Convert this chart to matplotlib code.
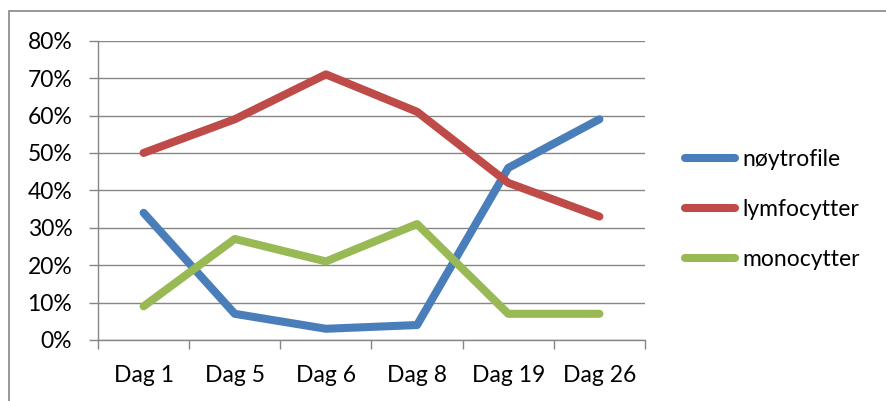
import matplotlib
matplotlib.use("Agg")
import matplotlib.pyplot as plt
from matplotlib.patches import Rectangle
from matplotlib.ticker import FuncFormatter, MultipleLocator

categories = ["Dag 1", "Dag 5", "Dag 6", "Dag 8", "Dag 19", "Dag 26"]
noytrofile = [34, 7, 3, 4, 46, 59]
lymfocytter = [50, 59, 71, 61, 42, 33]
monocytter = [9, 27, 21, 31, 7, 7]

series = [
    ("nøytrofile", noytrofile, "#4a7ebb"),
    ("lymfocytter", lymfocytter, "#be4b48"),
    ("monocytter", monocytter, "#98b954"),
]

W, H, DPI = 887, 401, 100
FS = 16.5
plt.rcParams["font.family"] = ["Lato", "DejaVu Sans"]

fig = plt.figure(figsize=(W / DPI, H / DPI), dpi=DPI)
fig.patch.set_facecolor("white")

# chart frame (extends past the right and bottom edges)
fig.patches.append(Rectangle((9 / W, -0.1), 1.2, 1 - 11 / H + 0.1,
                             transform=fig.transFigure, fill=False,
                             edgecolor="#868686", linewidth=1.2))

left, right, top, bottom = 98, 645, 40.7, 340
ax = fig.add_axes([left / W, 1 - bottom / H, (right - left) / W, (bottom - top) / H])

x = list(range(len(categories)))
for name, vals, col in series:
    ax.plot(x, vals, color=col, linewidth=5.8, solid_capstyle="round",
            solid_joinstyle="round", label=name, zorder=3)

ax.set_xlim(-0.5, len(categories) - 0.5)
ax.set_ylim(0, 80)
ax.yaxis.set_major_locator(MultipleLocator(10))
ax.yaxis.set_major_formatter(FuncFormatter(lambda v, p: f"{v:.0f}%"))
ax.set_xticks(x)
ax.set_xticklabels(categories)
ax.set_xticks([i - 0.5 for i in range(len(categories) + 1)], minor=True)

ax.grid(axis="y", color="#868686", linewidth=1.0)
ax.set_axisbelow(True)
for s in ["top", "right"]:
    ax.spines[s].set_visible(False)
for s in ["left", "bottom"]:
    ax.spines[s].set_color("#868686")
    ax.spines[s].set_linewidth(1.0)

ax.tick_params(axis="x", which="major", length=0, pad=18, labelsize=FS)
ax.tick_params(axis="x", which="minor", length=6.5, color="#868686", width=1.0)
ax.tick_params(axis="y", length=6.5, color="#868686", width=1.0, pad=12, labelsize=FS)

leg = fig.legend(loc="upper left", bbox_to_anchor=(685 / W, 1 - 149 / H),
                 frameon=False, fontsize=FS, handlelength=2.2,
                 handletextpad=0.3, labelspacing=1.27, borderaxespad=0,
                 borderpad=0)

fig.savefig("out.png", dpi=DPI, facecolor="white")
